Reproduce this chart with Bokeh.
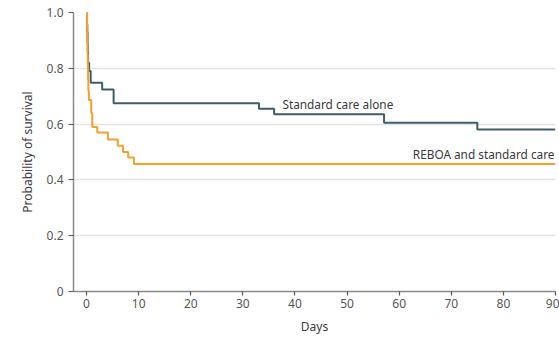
from bokeh.plotting import figure
from bokeh.models import Range1d, FixedTicker, ColumnDataSource
from bokeh.core.properties import value
from bokeh.embed import file_html
from bokeh.resources import INLINE

# Kaplan-Meier step data
std_days = [0, 0.1, 0.15, 0.2, 0.25, 0.3, 0.5, 0.8, 3.0, 5.2, 33.1, 36.0, 57.1, 75.0, 90]
std_surv = [1.0, 0.96, 0.93, 0.89, 0.86, 0.82, 0.79, 0.748, 0.724, 0.675, 0.655, 0.635, 0.605, 0.581, 0.581]

reboa_days = [0, 0.1, 0.15, 0.2, 0.25, 0.3, 0.35, 0.45, 0.9, 1.1, 2.05, 4.1, 6.0, 7.0, 8.0, 9.1, 90]
reboa_surv = [1.0, 0.95, 0.90, 0.85, 0.80, 0.76, 0.72, 0.686, 0.64, 0.59, 0.57, 0.545, 0.522, 0.50, 0.48, 0.457, 0.457]

x_ticks = [0, 10, 20, 30, 40, 50, 60, 70, 80, 90]
y_ticks = [0, 0.2, 0.4, 0.6, 0.8, 1.0]
y_tick_labels = {0: "0", 0.2: "0.2", 0.4: "0.4", 0.6: "0.6", 0.8: "0.8", 1.0: "1.0"}

labels_text = ["Standard care alone", "REBOA and standard care"]
labels_x = [37.6, 89.8]
labels_y = [0.672, 0.492]
labels_align = ["left", "right"]

STD_COLOR = "#3f5d69"
REBOA_COLOR = "#f6a02c"
FONT = "Noto Sans"

p = figure(width=559, height=337, output_backend="svg", toolbar_location=None,
           x_range=Range1d(-2.5, 90), y_range=Range1d(0, 1.0),
           min_border_left=73, min_border_right=4, min_border_top=12, min_border_bottom=45)
p.outline_line_color = None
p.background_fill_color = "white"
p.border_fill_color = "white"

p.step(std_days, std_surv, mode="after", line_color=STD_COLOR, line_width=2)
p.step(reboa_days, reboa_surv, mode="after", line_color=REBOA_COLOR, line_width=2)

src = ColumnDataSource(dict(x=labels_x, y=labels_y, t=labels_text, a=labels_align))
p.text(x="x", y="y", text="t", source=src, text_align="a", text_baseline="middle",
       text_font=value(FONT), text_font_size="11.8px", text_color="#3a3a3a")

# grid
p.xgrid.grid_line_color = None
p.ygrid.ticker = FixedTicker(ticks=y_ticks)
p.ygrid.grid_line_color = "#e3e3e3"
p.ygrid.grid_line_width = 1.5

# axes
p.xaxis.ticker = FixedTicker(ticks=x_ticks)
p.yaxis.ticker = FixedTicker(ticks=y_ticks)
p.yaxis.major_label_overrides = y_tick_labels
for ax in (p.xaxis[0], p.yaxis[0]):
    ax.axis_line_color = "#8a8a8a"
    ax.axis_line_width = 1.5
    ax.major_tick_line_color = "#555555"
    ax.major_tick_line_width = 1.2
    ax.major_tick_in = 0
    ax.minor_tick_line_color = None
    ax.major_label_text_font = FONT
    ax.major_label_text_font_size = "12px"
    ax.major_label_text_color = "#555555"
    ax.axis_label_text_font = FONT
    ax.axis_label_text_font_size = "12px"
    ax.axis_label_text_font_style = "normal"
    ax.axis_label_text_color = "#3a3a3a"

p.xaxis.axis_label = "Days"
p.xaxis.major_tick_out = 4
p.xaxis.major_label_standoff = 3
p.xaxis.axis_label_standoff = 7

p.yaxis.axis_label = "Probability of survival"
p.yaxis.major_tick_out = 5
p.yaxis.major_label_standoff = 5
p.yaxis.axis_label_standoff = 8

open("out.html", "w").write(file_html(p, INLINE))
